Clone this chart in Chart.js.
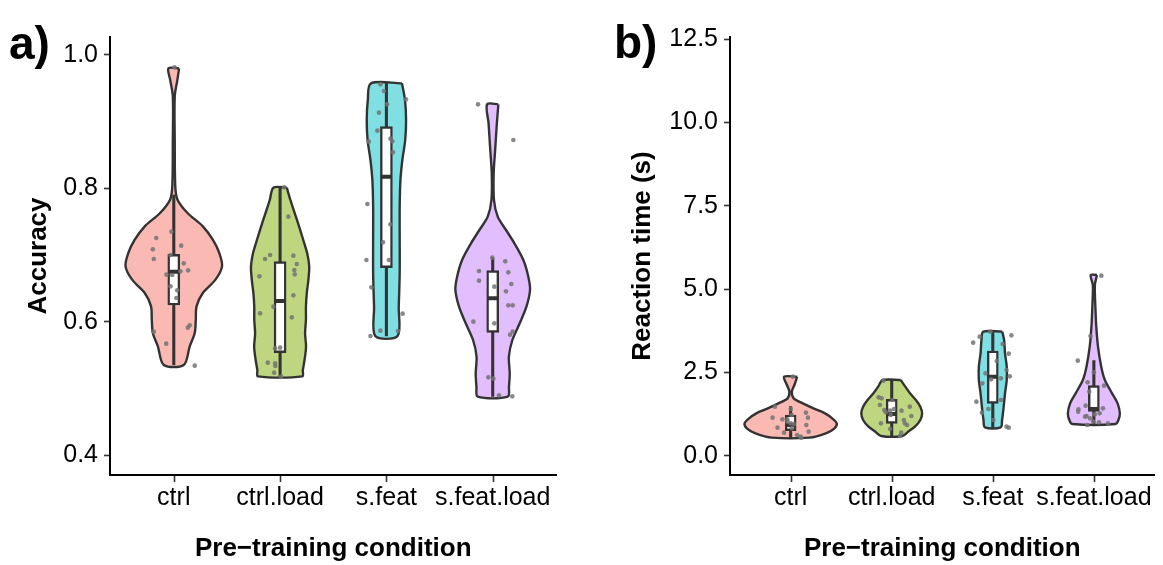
<!DOCTYPE html>
<html>
<head>
<meta charset="utf-8">
<script src="https://cdn.jsdelivr.net/npm/chart.js@4.4.1/dist/chart.umd.min.js"></script>
<style>
  body { margin: 0; background: #fff; }
  #wrap { position: relative; width: 1163px; height: 565px; }
  canvas { position: absolute; top: 0; }
  #accChart { left: 0; }
  #rtChart { left: 590px; }
</style>
</head>
<body>
<div id="wrap">
  <canvas id="accChart" width="590" height="565"></canvas>
  <canvas id="rtChart" width="573" height="565"></canvas>
</div>
<script>
// Data
const categories = ['ctrl', 'ctrl.load', 's.feat', 's.feat.load'];

const accTicks = [0.4, 0.6, 0.8, 1.0];
const rtTicks = [0, 2.5, 5, 7.5, 10, 12.5];

// violin outlines: y levels and half widths (category units)
const accViolinY = [
    [0.980, 0.962, 0.938, 0.873, 0.803, 0.783, 0.763, 0.743, 0.723, 0.703, 0.683, 0.663, 0.643, 0.623, 0.603, 0.583, 0.563, 0.535],
    [0.801, 0.7825, 0.7625, 0.7425, 0.7225, 0.7025, 0.6825, 0.6625, 0.6425, 0.6225, 0.6025, 0.5825, 0.5625, 0.5425, 0.5275, 0.518],
    [0.9575, 0.9325, 0.9025, 0.8725, 0.8425, 0.8125, 0.7725, 0.7225, 0.6725, 0.6225, 0.5785],
    [0.926, 0.8975, 0.8625, 0.8225, 0.7825, 0.7575, 0.7375, 0.7175, 0.6925, 0.6675, 0.6475, 0.6225, 0.5975, 0.5725, 0.5475, 0.5225, 0.5025, 0.4875]
];
const accViolinW = [
    [0.050, 0.033, 0.009, 0.009, 0.014, 0.035, 0.129, 0.273, 0.367, 0.428, 0.454, 0.392, 0.273, 0.214, 0.207, 0.197, 0.150, 0.094],
    [0.063, 0.097, 0.138, 0.179, 0.218, 0.255, 0.274, 0.266, 0.251, 0.243, 0.243, 0.235, 0.244, 0.230, 0.214, 0.208],
    [0.146, 0.175, 0.185, 0.177, 0.150, 0.132, 0.125, 0.125, 0.125, 0.116, 0.105],
    [0.053, 0.039, 0.025, 0.009, 0.012, 0.047, 0.125, 0.204, 0.288, 0.335, 0.351, 0.317, 0.254, 0.185, 0.152, 0.160, 0.153, 0.141]
];
const rtViolinY = [
    [2.37, 2.12, 1.92, 1.72, 1.57, 1.42, 1.27, 1.12, 0.97, 0.82, 0.67, 0.54],
    [2.27, 2.07, 1.87, 1.67, 1.47, 1.27, 1.07, 0.87, 0.72, 0.59],
    [3.72, 3.47, 3.07, 2.67, 2.27, 1.87, 1.47, 1.07, 0.85],
    [5.42, 5.12, 4.47, 3.87, 3.27, 2.67, 2.27, 1.87, 1.57, 1.27, 1.07, 0.95]
];
const rtViolinW = [
    [0.065, 0.037, 0.012, 0.030, 0.121, 0.226, 0.340, 0.411, 0.456, 0.434, 0.348, 0.186],
    [0.089, 0.134, 0.181, 0.239, 0.283, 0.301, 0.283, 0.230, 0.162, 0.105],
    [0.094, 0.112, 0.121, 0.138, 0.138, 0.121, 0.108, 0.092, 0.078],
    [0.031, 0.010, 0.015, 0.024, 0.041, 0.073, 0.109, 0.180, 0.235, 0.257, 0.243, 0.215]
];

// boxplot stats
const accLo  = [0.535, 0.518, 0.5785, 0.488];
const accQ1  = [0.625, 0.5535, 0.681, 0.584];
const accMed = [0.675, 0.631, 0.8175, 0.635];
const accQ3  = [0.701, 0.69, 0.8925, 0.6765];
const accHi  = [0.79, 0.801, 0.9575, 0.696];

const rtLo  = [0.54, 0.59, 0.85, 0.95];
const rtQ1  = [0.75, 0.97, 1.57, 1.33];
const rtMed = [0.92, 1.25, 2.37, 1.40];
const rtQ3  = [1.22, 1.69, 3.14, 2.10];
const rtHi  = [1.47, 2.27, 3.72, 2.85];

// jittered observations: values and horizontal jitter (category units)
const accPoints = [
    [0.9815, 0.735, 0.7255, 0.714, 0.7085, 0.694, 0.700, 0.6875, 0.677, 0.6755, 0.6705, 0.670, 0.653, 0.647, 0.6355, 0.5945, 0.591, 0.585, 0.567, 0.534],
    [0.8015, 0.7575, 0.700, 0.694, 0.699, 0.6865, 0.6775, 0.671, 0.668, 0.6395, 0.6225, 0.6065, 0.6125, 0.560, 0.561, 0.5385, 0.5375, 0.5335, 0.5235, 0.5175],
    [0.956, 0.946, 0.9335, 0.926, 0.9135, 0.8865, 0.870, 0.8745, 0.8705, 0.854, 0.7765, 0.746, 0.719, 0.6925, 0.6925, 0.6515, 0.612, 0.5865, 0.586, 0.5785],
    [0.926, 0.8725, 0.696, 0.6905, 0.676, 0.674, 0.6615, 0.6565, 0.6525, 0.6455, 0.6245, 0.6245, 0.600, 0.5975, 0.5805, 0.585, 0.5165, 0.5145, 0.4895, 0.488]
];
const accJitter = [
    [0.007, -0.022, -0.165, 0.070, -0.197, -0.188, -0.031, 0.094, 0.135, 0.063, -0.069, -0.015, -0.031, 0.032, 0.025, 0.150, 0.132, -0.188, -0.071, 0.197],
    [0.038, 0.078, -0.094, -0.141, 0.125, 0.157, 0.134, 0.138, -0.195, 0.125, -0.063, 0.110, -0.188, -0.047, 0.0, -0.116, -0.047, -0.044, -0.056, 0.009],
    [-0.056, -0.023, 0.184, 0.006, -0.070, -0.085, -0.166, 0.038, 0.056, 0.062, -0.179, 0.038, -0.032, -0.188, 0.024, -0.141, 0.153, -0.056, 0.109, -0.150],
    [-0.138, 0.194, -0.004, 0.118, -0.129, 0.147, -0.129, 0.175, 0.015, 0.125, 0.147, 0.188, -0.182, 0.015, 0.163, 0.188, -0.041, 0.006, 0.059, 0.184]
];
const rtPoints = [
    [2.37, 1.47, 1.29, 1.40, 1.14, 1.09, 1.09, 1.14, 0.97, 0.92, 0.84, 0.82, 0.69, 0.72, 0.62, 0.54, 1.02, 0.95, 0.57, 1.22],
    [2.25, 1.75, 1.72, 1.67, 1.37, 1.35, 1.40, 1.35, 1.47, 1.22, 1.19, 1.07, 0.97, 0.92, 0.80, 0.69, 0.59, 0.97, 1.52, 1.30],
    [3.72, 3.57, 3.61, 3.39, 3.35, 3.06, 2.84, 2.57, 2.47, 2.38, 2.29, 2.32, 2.17, 1.62, 1.67, 1.40, 1.29, 1.07, 0.87, 0.84],
    [5.40, 3.59, 2.85, 2.50, 2.10, 2.20, 1.92, 1.50, 1.39, 1.32, 1.42, 1.27, 1.24, 1.19, 1.12, 1.17, 1.00, 0.97, 0.92, 1.02]
];
const rtJitter = [
    [0.022, -0.155, 0.151, 0.0, -0.179, -0.082, -0.033, 0.171, 0.0, 0.155, -0.130, 0.010, -0.065, 0.178, 0.064, 0.107, -0.033, 0.032, 0.097, 0.010],
    [-0.081, -0.129, -0.100, 0.007, -0.074, -0.016, 0.023, 0.097, 0.179, -0.010, 0.194, 0.120, -0.107, 0.152, -0.016, 0.094, 0.082, 0.130, -0.117, -0.058],
    [-0.023, -0.130, 0.184, -0.194, 0.097, 0.158, 0.039, 0.136, -0.072, 0.168, -0.017, 0.081, -0.104, -0.162, 0.081, -0.043, -0.107, 0.006, 0.136, 0.158],
    [0.074, -0.033, -0.159, 0.0, 0.100, -0.062, -0.046, -0.082, -0.152, -0.155, 0.090, 0.058, 0.010, -0.072, -0.039, -0.087, 0.051, 0.139, -0.065, -0.007]
];

// Styles
const fillColors = ['#FBB9B4', '#BFD680', '#7FDFE2', '#E3BEFE'];
const lineColor = '#333333';
const fontFamily = "'Liberation Sans', Arial, Helvetica, sans-serif";

function violinShape(ci, ys, ws) {
    const cx = ci + 1;
    const right = ys.map((y, i) => ({x: cx + ws[i], y: y}));
    const left = ys.map((y, i) => ({x: cx - ws[i], y: y})).reverse();
    return right.concat(left, [right[0]]);
}

// panel letter + category tick marks on the x axis
const panelDecor = {
    id: 'panelDecor',
    afterDraw(chart, args, opts) {
        const ctx = chart.ctx;
        const xs = chart.scales.x;
        const bottom = chart.chartArea.bottom;
        ctx.save();
        ctx.strokeStyle = lineColor;
        ctx.lineWidth = 1.6;
        categories.forEach((c, i) => {
            const px = Math.round(xs.getPixelForValue(i + 1)) + 0.5;
            ctx.beginPath();
            ctx.moveTo(px, bottom + 1);
            ctx.lineTo(px, bottom + 7);
            ctx.stroke();
        });
        ctx.font = 'bold 46px ' + fontFamily;
        ctx.fillStyle = '#000';
        ctx.textBaseline = 'alphabetic';
        ctx.fillText(opts.text, opts.x, opts.y);
        ctx.restore();
    }
};

function makePanel(canvasId, p) {
    const datasets = [];
    categories.forEach((cat, i) => {
        datasets.push({
            type: 'scatter',
            showLine: true,
            data: violinShape(i, p.violinY[i], p.violinW[i]),
            backgroundColor: fillColors[i],
            borderColor: lineColor,
            borderWidth: 2.4,
            fill: 'shape',
            tension: 0.3,
            pointRadius: 0,
            order: 4
        });
    });
    // whiskers
    datasets.push({
        type: 'bar',
        data: categories.map((c, i) => ({x: i + 1, y: [p.lo[i], p.hi[i]]})),
        backgroundColor: lineColor,
        borderWidth: 0,
        barThickness: 2.4,
        grouped: false,
        order: 3
    });
    // boxes
    datasets.push({
        type: 'bar',
        data: categories.map((c, i) => ({x: i + 1, y: [p.q1[i], p.q3[i]]})),
        backgroundColor: '#ffffff',
        borderColor: lineColor,
        borderWidth: 2.4,
        borderSkipped: false,
        barThickness: p.boxPx,
        grouped: false,
        order: 2
    });
    // medians
    datasets.push({
        type: 'scatter',
        data: categories.map((c, i) => ({x: i + 1, y: p.med[i]})),
        pointStyle: 'line',
        pointRadius: p.boxPx / 2 - 1,
        borderColor: lineColor,
        borderWidth: 4,
        order: 1
    });
    // observations
    const pts = [];
    categories.forEach((c, i) => {
        p.points[i].forEach((v, k) => pts.push({x: i + 1 + p.jitter[i][k], y: v}));
    });
    datasets.push({
        type: 'scatter',
        data: pts,
        pointRadius: 2.3,
        backgroundColor: 'rgba(115,115,115,0.85)',
        borderWidth: 0,
        order: 0
    });

    return new Chart(document.getElementById(canvasId), {
        type: 'scatter',
        data: {datasets: datasets},
        plugins: [panelDecor],
        options: {
            responsive: false,
            devicePixelRatio: 1,
            animation: false,
            events: [],
            layout: {padding: {top: 37, right: p.padRight, bottom: 0, left: 0}},
            plugins: {
                legend: {display: false},
                tooltip: {enabled: false},
                panelDecor: p.label
            },
            scales: {
                x: {
                    type: 'linear',
                    min: 0.4,
                    max: 4.6,
                    offset: false,
                    afterBuildTicks: s => { s.ticks = categories.map((c, i) => ({value: i + 1})); },
                    afterFit: s => { s.height = 90; },
                    ticks: {
                        callback: v => categories[v - 1],
                        font: {size: 25, family: fontFamily},
                        color: '#000',
                        padding: 8,
                        autoSkip: false,
                        maxRotation: 0
                    },
                    grid: {display: false, drawTicks: false},
                    border: {display: true, color: '#000', width: 2},
                    title: {
                        display: true,
                        text: 'Pre\u2212training condition',
                        font: {size: 26, weight: 'bold', family: fontFamily},
                        color: '#000',
                        padding: {top: 0, bottom: 0.5}
                    }
                },
                y: {
                    type: 'linear',
                    min: p.yMin,
                    max: p.yMax,
                    afterBuildTicks: s => { s.ticks = p.ticks.map(v => ({value: v})); },
                    afterFit: s => { s.width = p.axisLeft; },
                    ticks: {
                        callback: v => v.toFixed(1),
                        font: {size: 25, family: fontFamily},
                        color: '#000',
                        padding: 6
                    },
                    grid: {drawOnChartArea: false, tickLength: 6, tickWidth: 1.6, color: lineColor},
                    border: {display: true, color: '#000', width: 2},
                    title: {
                        display: true,
                        text: p.yTitle,
                        font: {size: 26, weight: 'bold', family: fontFamily},
                        color: '#000',
                        padding: {top: p.yTitlePad, bottom: 0}
                    }
                }
            }
        }
    });
}

makePanel('accChart', {
    violinY: accViolinY, violinW: accViolinW,
    lo: accLo, q1: accQ1, med: accMed, q3: accQ3, hi: accHi,
    points: accPoints, jitter: accJitter,
    ticks: accTicks, yMin: 0.37, yMax: 1.027,
    yTitle: 'Accuracy', yTitlePad: 23.5,
    axisLeft: 110, padRight: 33.5, boxPx: 12,
    label: {text: 'a)', x: 9, y: 59}
});

makePanel('rtChart', {
    violinY: rtViolinY, violinW: rtViolinW,
    lo: rtLo, q1: rtQ1, med: rtMed, q3: rtQ3, hi: rtHi,
    points: rtPoints, jitter: rtJitter,
    ticks: rtTicks, yMin: -0.58, yMax: 12.56,
    yTitle: 'Reaction time (s)', yTitlePad: 37.5,
    axisLeft: 140, padRight: 0, boxPx: 11,
    label: {text: 'b)', x: 24, y: 58}
});
</script>
</body>
</html>
